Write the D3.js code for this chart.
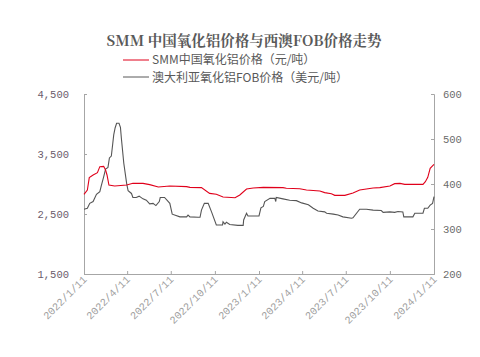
<!DOCTYPE html>
<html><head><meta charset="utf-8">
<script src="https://cdn.jsdelivr.net/npm/d3@7"></script>
<style>body{margin:0;background:#fff}svg{display:block}</style>
</head><body><svg id="c" width="480" height="357"></svg>
<script>
const title = "SMM  中国氧化铝价格与西澳FOB价格走势";
const seriesNames = ["SMM中国氧化铝价格（元/吨）", "澳大利亚氧化铝FOB价格（美元/吨）"];
const xTickLabels = ["2022/1/11","2022/4/11","2022/7/11","2022/10/11","2023/1/11","2023/4/11","2023/7/11","2023/10/11","2024/1/11"];
const leftTicks = [1500, 2500, 3500, 4500];
const rightTicks = [200, 300, 400, 500, 600];

const cnyDates = ["2022-01-11","2022-01-18","2022-01-22","2022-01-30","2022-02-08","2022-02-13","2022-02-21","2022-02-25","2022-02-28","2022-03-04","2022-03-16","2022-04-10","2022-04-23","2022-05-14","2022-05-28","2022-06-15","2022-07-09","2022-08-13","2022-08-20","2022-09-13","2022-09-30","2022-10-14","2022-10-28","2022-11-22","2022-12-02","2022-12-16","2022-12-30","2023-01-20","2023-03-02","2023-03-09","2023-04-06","2023-04-20","2023-05-18","2023-05-28","2023-06-11","2023-06-18","2023-07-09","2023-07-26","2023-08-09","2023-08-23","2023-09-06","2023-09-20","2023-10-11","2023-10-21","2023-11-01","2023-11-11","2023-12-19","2023-12-24","2023-12-29","2024-01-03","2024-01-11"];
const cnyValues = [2828,2900,3106,3150,3189,3289,3294,3233,3150,2983,2967,2983,3011,3011,2989,2950,2967,2956,2944,2939,2844,2828,2783,2772,2817,2917,2933,2944,2939,2928,2922,2900,2883,2856,2839,2811,2811,2850,2900,2917,2933,2939,2967,3006,3011,2994,2994,3039,3111,3261,3328];

const usdDates = ["2022-01-11","2022-01-18","2022-01-23","2022-01-30","2022-02-06","2022-02-13","2022-02-16","2022-02-21","2022-02-25","2022-03-02","2022-03-05","2022-03-09","2022-03-12","2022-03-14","2022-03-17","2022-03-20","2022-03-25","2022-03-28","2022-03-30","2022-04-04","2022-04-10","2022-04-13","2022-04-20","2022-04-23","2022-04-30","2022-05-06","2022-05-14","2022-05-21","2022-05-28","2022-06-04","2022-06-10","2022-06-17","2022-06-19","2022-06-28","2022-07-09","2022-07-14","2022-07-30","2022-08-13","2022-08-16","2022-08-20","2022-09-06","2022-09-10","2022-09-13","2022-09-19","2022-09-27","2022-10-04","2022-10-14","2022-10-27","2022-10-28","2022-11-01","2022-11-04","2022-11-11","2022-11-28","2022-12-09","2022-12-10","2022-12-16","2022-12-19","2023-01-11","2023-01-15","2023-01-20","2023-01-23","2023-02-03","2023-02-13","2023-02-15","2023-02-16","2023-03-02","2023-03-16","2023-03-30","2023-04-10","2023-04-24","2023-05-04","2023-05-14","2023-05-28","2023-06-01","2023-06-15","2023-06-25","2023-07-05","2023-07-23","2023-07-26","2023-08-09","2023-08-23","2023-09-06","2023-09-23","2023-09-27","2023-10-11","2023-10-21","2023-10-28","2023-11-07","2023-11-09","2023-11-28","2023-12-02","2023-12-19","2023-12-22","2023-12-29","2024-01-03","2024-01-08","2024-01-11"];
const usdValues = [344,346,357,361,377,383,396,416,433,437,458,462,490,509,525,535,535,526,501,446,401,385,379,370,370,373,367,364,356,357,352,361,370,370,357,333,327,327,331,327,326,326,342,357,357,338,309,309,316,311,315,310,308,308,320,335,329,329,347,350,361,368,368,361,370,367,364,363,358,354,346,340,338,335,333,331,327,324,325,344,344,342,341,337,338,337,339,338,327,327,335,335,346,346,353,357,372];

(function () {
const svg = d3.select("#c");
const mL = 84, mR = 434, mT = 94, mB = 274;
const parse = d3.timeParse("%Y-%m-%d");
const tickDates = xTickLabels.map(s => d3.timeParse("%Y/%m/%d")(s));

const x = d3.scaleTime().domain([tickDates[0], tickDates[tickDates.length-1]]).range([mL, mR]);
const yL = d3.scaleLinear().domain([1500, 4500]).range([mB, mT]);
const yR = d3.scaleLinear().domain([200, 600]).range([mB, mT]);

const axisColor = "#a6a6a6";
const numFont = "'Liberation Mono', 'DejaVu Sans Mono', monospace";

svg.append("text").attr("x", 244).attr("y", 45.5).attr("text-anchor", "middle")
  .attr("font-family", "'Noto Serif CJK SC','Noto Sans CJK SC', serif").attr("font-weight", "bold")
  .attr("font-size", 14.5).attr("fill", "#595959").text(title);

const legColors = ["#e0001b", "#595959"];
const legY = [60, 77];
const legTextY = [64, 82];
seriesNames.forEach((n, i) => {
  svg.append("line").attr("x1", 123).attr("x2", 149).attr("y1", legY[i]).attr("y2", legY[i])
    .attr("stroke", legColors[i]).attr("stroke-width", 1);
  svg.append("text").attr("x", 152).attr("y", legTextY[i])
    .attr("font-family", "'Noto Sans CJK SC', sans-serif").attr("font-size", 12)
    .attr("fill", "#595959").text(n);
});

const gL = svg.append("g").attr("transform", `translate(${mL},0)`)
  .call(d3.axisRight(yL).tickValues(leftTicks).tickSize(3).tickFormat(d3.format(",")));
gL.selectAll("text").attr("x", -15).attr("text-anchor", "end");
const gR = svg.append("g").attr("transform", `translate(${mR},0)`)
  .call(d3.axisLeft(yR).tickValues(rightTicks).tickSize(3).tickFormat(d3.format("d")));
gR.selectAll("text").attr("x", 9).attr("text-anchor", "start");
const gB = svg.append("g").attr("transform", `translate(0,${mB})`)
  .call(d3.axisTop(x).tickValues(tickDates).tickSize(3).tickFormat((d, i) => xTickLabels[i]));
gB.selectAll("text").attr("y", 0).attr("dy", 0)
  .attr("transform", "translate(3,6) rotate(-45)").attr("text-anchor", "end")
  .attr("fill", "#a0a0a0").attr("font-size", 10.5);

[gL, gR, gB].forEach(g => {
  g.select(".domain").attr("stroke", axisColor);
  g.selectAll(".tick line").attr("stroke", axisColor);
  g.selectAll("text").attr("font-family", numFont);
});
gL.selectAll("text").attr("fill", "#6b5b6b").attr("font-size", 10.5);
gR.selectAll("text").attr("fill", "#6b6b6b").attr("font-size", 10.5);

const cny = cnyDates.map((d, i) => ({d: parse(d), v: cnyValues[i]}));
const usd = usdDates.map((d, i) => ({d: parse(d), v: usdValues[i]}));
svg.append("path").datum(usd).attr("fill", "none").attr("stroke", "#555").attr("stroke-width", 1.1)
  .attr("d", d3.line().x(p => x(p.d)).y(p => yR(p.v)));
svg.append("path").datum(cny).attr("fill", "none").attr("stroke", "#e0001b").attr("stroke-width", 1.1)
  .attr("d", d3.line().x(p => x(p.d)).y(p => yL(p.v)));
})();
</script></body></html>
